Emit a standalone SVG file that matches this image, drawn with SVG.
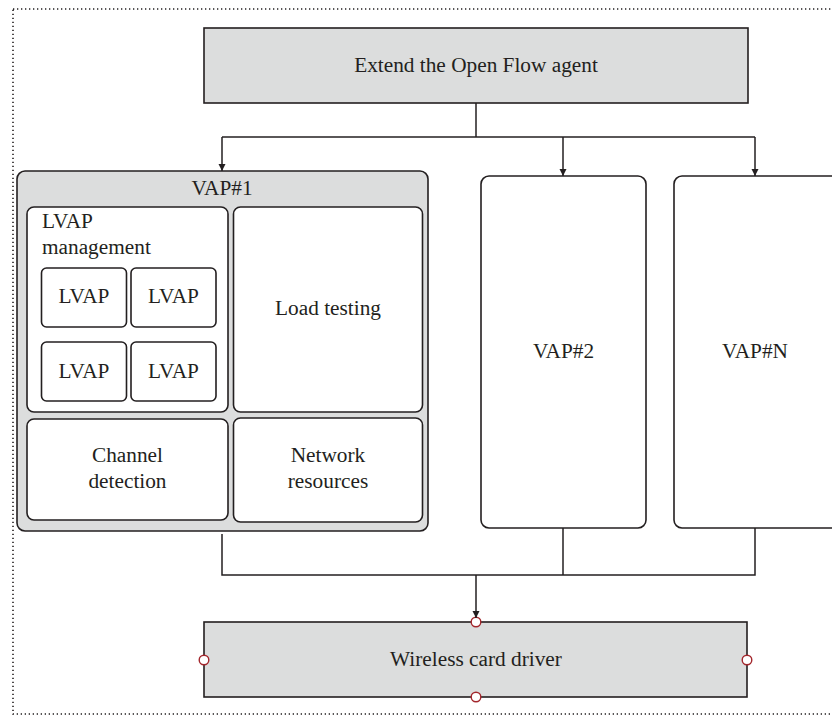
<svg xmlns="http://www.w3.org/2000/svg" width="832" height="716" viewBox="0 0 832 716">
  <style>
    .frame { fill: none; stroke: #231f20; stroke-width: 1.6; stroke-dasharray: 1.3 2.7; }
    .box { fill: #dcdddd; stroke: #231f20; stroke-width: 1.6; }
    .panel { fill: #ffffff; stroke: #231f20; stroke-width: 1.6; }
    .wire { fill: none; stroke: #231f20; stroke-width: 1.5; }
    .port { fill: #ffffff; stroke: #a3262c; stroke-width: 1.4; }
    text { font-family: "Liberation Serif", "Times New Roman", serif; font-size: 21.3px; fill: #231f20; }
    .c { text-anchor: middle; }
  </style>
  <defs>
    <marker id="arrow" viewBox="0 0 10 10" refX="10" refY="5" markerWidth="7.5" markerHeight="12" markerUnits="userSpaceOnUse" orient="auto">
      <path d="M0,0 L10,5 L0,10 Z" fill="#231f20"/>
    </marker>
  </defs>

  <rect class="frame" x="13" y="9" width="840" height="705"/>

  <g id="openflow-agent">
    <rect class="box" x="204" y="28" width="544" height="75"/>
    <text class="c" x="476" y="72">Extend the Open Flow agent</text>
  </g>

  <g id="vap1">
    <rect class="box" x="17" y="171" width="411" height="360" rx="8"/>
    <text class="c" x="222" y="195">VAP#1</text>
  </g>

  <g id="lvap-management">
    <rect class="panel" x="27" y="207" width="201" height="205" rx="7"/>
    <text x="42" y="228">LVAP</text>
    <text x="42" y="254">management</text>
  </g>

  <g id="lvap-1">
    <rect class="panel" x="41.5" y="268" width="85" height="59" rx="5"/>
    <text class="c" x="84" y="303">LVAP</text>
  </g>
  <g id="lvap-2">
    <rect class="panel" x="131" y="268" width="85" height="59" rx="5"/>
    <text class="c" x="173.5" y="303">LVAP</text>
  </g>
  <g id="lvap-3">
    <rect class="panel" x="41.5" y="342" width="85" height="59" rx="5"/>
    <text class="c" x="84" y="378">LVAP</text>
  </g>
  <g id="lvap-4">
    <rect class="panel" x="131" y="342" width="85" height="59" rx="5"/>
    <text class="c" x="173.5" y="378">LVAP</text>
  </g>

  <g id="load-testing">
    <rect class="panel" x="233.5" y="207" width="189" height="205" rx="7"/>
    <text class="c" x="328" y="315">Load testing</text>
  </g>

  <g id="channel-detection">
    <rect class="panel" x="27" y="419" width="201" height="101" rx="7"/>
    <text class="c" x="127.5" y="462">Channel</text>
    <text class="c" x="127.5" y="488">detection</text>
  </g>

  <g id="network-resources">
    <rect class="panel" x="233.5" y="418" width="189" height="104" rx="7"/>
    <text class="c" x="328" y="462">Network</text>
    <text class="c" x="328" y="488">resources</text>
  </g>

  <g id="vap2">
    <rect class="panel" x="481" y="176" width="165" height="352" rx="8"/>
    <text class="c" x="563.5" y="358">VAP#2</text>
  </g>

  <g id="vapn">
    <rect class="panel" x="674" y="176" width="170" height="352" rx="8"/>
    <text class="c" x="755" y="358">VAP#N</text>
  </g>

  <g id="wireless-card-driver">
    <rect class="box" x="204" y="622" width="543" height="75"/>
    <text class="c" x="476" y="666">Wireless card driver</text>
    <circle class="port" cx="476" cy="622" r="4.8"/>
    <circle class="port" cx="476" cy="697" r="4.8"/>
    <circle class="port" cx="204" cy="660" r="4.8"/>
    <circle class="port" cx="747" cy="660" r="4.8"/>
  </g>

  <g id="connectors">
    <path class="wire" d="M476,103 V137"/>
    <path class="wire" d="M222,137 H755"/>
    <path class="wire" d="M222,137 V171" marker-end="url(#arrow)"/>
    <path class="wire" d="M563,137 V176" marker-end="url(#arrow)"/>
    <path class="wire" d="M755,137 V176" marker-end="url(#arrow)"/>
    <path class="wire" d="M222,534 V575 H755 V528"/>
    <path class="wire" d="M563,528 V575"/>
    <path class="wire" d="M476,575 V618" marker-end="url(#arrow)"/>
  </g>
</svg>
